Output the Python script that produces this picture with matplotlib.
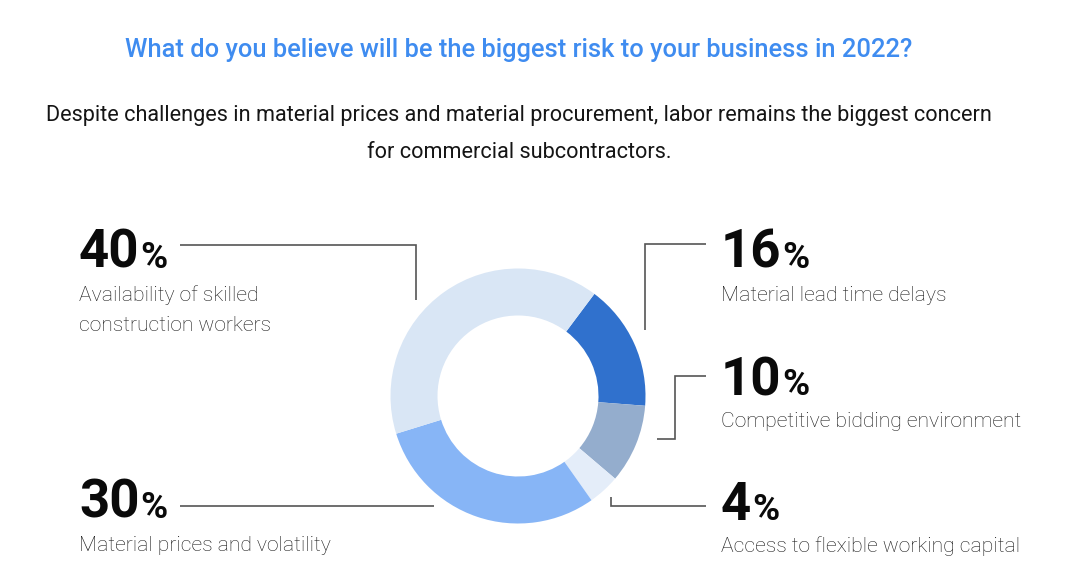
import matplotlib
matplotlib.use("Agg")
import matplotlib.pyplot as plt

# Data (wedge order, clockwise from upper right)
categories = ["Material lead time delays", "Competitive bidding environment",
              "Access to flexible working capital", "Material prices and volatility",
              "Availability of skilled\nconstruction workers"]
values = [16, 10, 4, 30, 40]
colors = ["#3071cd", "#94adcd", "#e4edf9", "#87b5f6", "#d9e6f5"]

title = "What do you believe will be the biggest risk to your business in 2022?"
subtitle = ("Despite challenges in material prices and material procurement, labor remains the biggest concern\n"
            "for commercial subcontractors.")

W, H = 1088, 588
fig = plt.figure(figsize=(W / 100, H / 100), dpi=100)
ax = fig.add_axes([0, 0, 1, 1])
ax.set_xlim(0, W)
ax.set_ylim(H, 0)
ax.axis("off")

# Donut
cx, cy, R = 518, 396, 128
pax = fig.add_axes([(cx - R) / W, (H - cy - R) / H, 2 * R / W, 2 * R / H])
pax.pie(values, colors=colors, startangle=53.2, counterclock=False,
        radius=127.5 / 128, wedgeprops=dict(width=47 / 128, linewidth=0))
pax.set_xlim(-1, 1)
pax.set_ylim(-1, 1)
pax.axis("off")

# Titles
ax.text(519, 57, title, ha="center", va="baseline", fontsize=18.4,
        family="Roboto", weight="medium", color="#3f8cf0")
for i, line in enumerate(subtitle.split("\n")):
    ax.text(519, 121 + 37 * i, line, ha="center", va="baseline", fontsize=15.6,
            family="Roboto", weight="normal", color="#151515")

renderer = fig.canvas.get_renderer()

def pct(x, y, num):
    t = ax.text(x, y, str(num), ha="left", va="baseline", fontsize=38,
                family="Roboto", weight="bold", color="#0a0a0a")
    bb = t.get_window_extent(renderer)
    x2 = bb.x1 + 0.5
    ax.text(x2, y, "%", ha="left", va="baseline", fontsize=26.5,
            family="Roboto", weight="bold", color="#0a0a0a")

def label(x, y, s):
    for i, line in enumerate(s.split("\n")):
        ax.text(x, y + 30 * i, line, ha="left", va="baseline", fontsize=15.2,
                family="Roboto", weight="light", color="#1a1a1a")

# Left side
pct(79, 268, values[4]); label(79, 301, categories[4])
pct(79, 518, values[3]); label(79, 551, categories[3])
# Right side
pct(721, 268, values[0]); label(721, 301, categories[0])
pct(721, 395, values[1]); label(721, 427, categories[1])
pct(721, 520, values[2]); label(721, 552, categories[2])

lc = dict(color="#555555", lw=1.2, solid_capstyle="butt", solid_joinstyle="miter")
ax.plot([180, 416, 416], [245, 245, 300], **lc)
ax.plot([180, 434], [506, 506], **lc)
ax.plot([706, 645, 645], [244, 244, 330], **lc)
ax.plot([706, 675, 675, 657], [376, 376, 439, 439], **lc)
ax.plot([611, 611, 706], [497, 506, 506], **lc)

fig.savefig("out.png", dpi=100, facecolor="white")
